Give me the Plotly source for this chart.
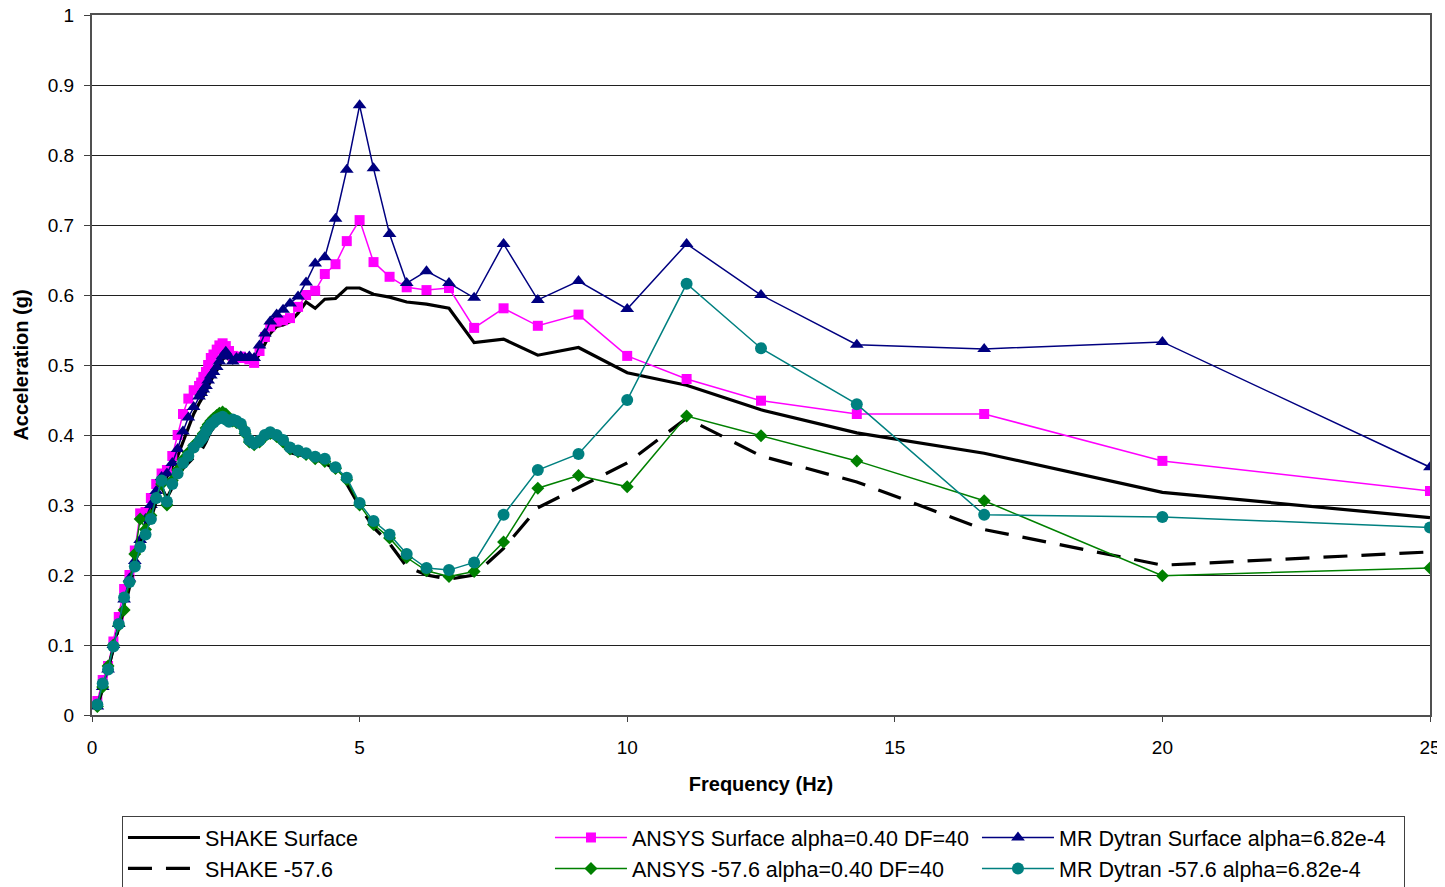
import plotly.graph_objects as go

freq = [0.1, 0.2, 0.3, 0.4, 0.5, 0.6, 0.7, 0.8, 0.9, 1.0,
        1.1, 1.2, 1.3, 1.4, 1.5, 1.6, 1.7, 1.8, 1.9, 2.0,
        2.04, 2.08, 2.13, 2.17, 2.22, 2.27, 2.33, 2.38, 2.44, 2.5,
        2.56, 2.63, 2.70, 2.78, 2.86, 2.94, 3.03, 3.13, 3.23, 3.33,
        3.45, 3.57, 3.70, 3.85, 4.0, 4.17, 4.35, 4.55, 4.76, 5.0,
        5.26, 5.56, 5.88, 6.25, 6.67, 7.14, 7.69, 8.33, 9.09, 10.0,
        11.11, 12.5, 14.29, 16.67, 20.0, 25.0]

shake_surface = [0.01, 0.04, 0.065, 0.098, 0.128, 0.16, 0.19, 0.215, 0.245, 0.27,
                 0.295, 0.315, 0.33, 0.34, 0.355, 0.37, 0.39, 0.41, 0.43, 0.445,
                 0.45, 0.456, 0.462, 0.47, 0.478, 0.485, 0.492, 0.5, 0.508, 0.512,
                 0.508, 0.503, 0.506, 0.508, 0.506, 0.507, 0.505, 0.515, 0.53, 0.545,
                 0.555, 0.557, 0.562, 0.574, 0.59, 0.581, 0.594, 0.595, 0.61, 0.61,
                 0.601, 0.597, 0.59, 0.587, 0.581, 0.532, 0.537, 0.514, 0.525, 0.489,
                 0.471, 0.436, 0.403, 0.374, 0.318, 0.282]

ansys_surface = [0.02, 0.05, 0.07, 0.105, 0.14, 0.18, 0.2, 0.235, 0.288, 0.29,
                 0.31, 0.33, 0.345, 0.35, 0.37, 0.4, 0.43, 0.452, 0.464, 0.47,
                 0.475, 0.483, 0.49, 0.5, 0.51, 0.515, 0.522, 0.528, 0.531, 0.527,
                 0.52, 0.513, 0.51, 0.512, 0.51, 0.508, 0.503, 0.52, 0.54, 0.555,
                 0.562, 0.564, 0.567, 0.583, 0.6, 0.606, 0.63, 0.644, 0.677, 0.707,
                 0.647, 0.626, 0.611, 0.607, 0.61, 0.553, 0.581, 0.556, 0.572, 0.513,
                 0.48, 0.449, 0.43, 0.43, 0.363, 0.32]

mr_surface = [0.012, 0.04, 0.065, 0.1, 0.13, 0.165, 0.195, 0.22, 0.25, 0.28,
              0.3, 0.32, 0.34, 0.345, 0.36, 0.38, 0.405, 0.425, 0.44, 0.455,
              0.46, 0.465, 0.47, 0.478, 0.485, 0.49, 0.497, 0.505, 0.513, 0.519,
              0.512, 0.505, 0.51, 0.512, 0.51, 0.512, 0.51, 0.528, 0.545, 0.562,
              0.572, 0.579, 0.588, 0.598, 0.618, 0.645, 0.654, 0.709, 0.779, 0.871,
              0.781, 0.687, 0.617, 0.634, 0.617, 0.596, 0.673, 0.593, 0.62, 0.58,
              0.673, 0.6, 0.529, 0.523, 0.533, 0.354]

shake_576 = [0.01, 0.04, 0.065, 0.095, 0.125, 0.15, 0.185, 0.215, 0.245, 0.262,
             0.28, 0.305, 0.325, 0.31, 0.325, 0.34, 0.352, 0.36, 0.368, 0.372,
             0.377, 0.382, 0.39, 0.397, 0.405, 0.41, 0.415, 0.418, 0.42, 0.418,
             0.415, 0.418, 0.415, 0.41, 0.4, 0.39, 0.385, 0.388, 0.395, 0.398,
             0.395, 0.385, 0.375, 0.372, 0.37, 0.365, 0.36, 0.35, 0.33, 0.298,
             0.268, 0.245, 0.212, 0.2, 0.194, 0.2, 0.238, 0.296, 0.325, 0.36,
             0.424, 0.37, 0.333, 0.265, 0.214, 0.233]

ansys_576 = [0.012, 0.04, 0.07, 0.1, 0.128, 0.15, 0.19, 0.23, 0.28, 0.265,
             0.285, 0.31, 0.33, 0.3, 0.335, 0.35, 0.365, 0.375, 0.385, 0.392,
             0.397, 0.402, 0.41, 0.415, 0.42, 0.424, 0.428, 0.431, 0.433, 0.43,
             0.422, 0.42, 0.418, 0.414, 0.402, 0.39, 0.386, 0.39, 0.398, 0.402,
             0.398, 0.39, 0.38, 0.376, 0.372, 0.366, 0.362, 0.352, 0.336, 0.3,
             0.272, 0.253, 0.225, 0.206, 0.198, 0.205, 0.247, 0.324, 0.342, 0.326,
             0.427, 0.399, 0.363, 0.306, 0.199, 0.21]

mr_576 = [0.015, 0.045, 0.065, 0.098, 0.13, 0.168, 0.19, 0.212, 0.24, 0.258,
          0.28, 0.31, 0.335, 0.305, 0.33, 0.345, 0.36, 0.37, 0.382, 0.39,
          0.394, 0.398, 0.405, 0.41, 0.415, 0.418, 0.422, 0.424, 0.426, 0.422,
          0.419, 0.422, 0.42, 0.416, 0.405, 0.393, 0.388, 0.392, 0.4, 0.404,
          0.4, 0.393, 0.382, 0.378, 0.374, 0.369, 0.366, 0.354, 0.339, 0.303,
          0.277, 0.258, 0.23, 0.21, 0.207, 0.218, 0.286, 0.35, 0.373, 0.45,
          0.616, 0.524, 0.444, 0.286, 0.283, 0.268]

names = ["SHAKE Surface", "ANSYS Surface alpha=0.40 DF=40", "MR Dytran Surface alpha=6.82e-4",
         "SHAKE -57.6", "ANSYS -57.6 alpha=0.40 DF=40", "MR Dytran -57.6 alpha=6.82e-4"]

x_ticks = [0, 5, 10, 15, 20, 25]
y_ticks = [0, 0.1, 0.2, 0.3, 0.4, 0.5, 0.6, 0.7, 0.8, 0.9, 1]

FONT = "Liberation Sans, Arial, sans-serif"

fig = go.Figure()
fig.add_trace(go.Scatter(x=freq, y=shake_surface, name=names[0], mode="lines",
                         line=dict(color="black", width=3.2)))
fig.add_trace(go.Scatter(x=freq, y=ansys_surface, name=names[1], mode="lines+markers",
                         line=dict(color="#FF00FF", width=1.5),
                         marker=dict(symbol="square", size=10, color="#FF00FF")))
fig.add_trace(go.Scatter(x=freq, y=mr_surface, name=names[2], mode="lines+markers",
                         line=dict(color="#000080", width=1.5),
                         marker=dict(symbol="triangle-up", size=12, color="#000080")))
fig.add_trace(go.Scatter(x=freq, y=shake_576, name=names[3], mode="lines",
                         line=dict(color="black", width=3.2, dash="24px,14px")))
fig.add_trace(go.Scatter(x=freq, y=ansys_576, name=names[4], mode="lines+markers",
                         line=dict(color="#008000", width=1.5),
                         marker=dict(symbol="diamond", size=10, color="#008000")))
fig.add_trace(go.Scatter(x=freq, y=mr_576, name=names[5], mode="lines+markers",
                         line=dict(color="#008080", width=1.5),
                         marker=dict(symbol="circle", size=12, color="#008080")))

# page has an 8px body margin, so the figure is sized/offset to compensate
fig.update_layout(
    width=1437, height=879,
    margin=dict(l=84, r=15, t=7, b=172, autoexpand=False),
    paper_bgcolor="white", plot_bgcolor="white",
    font=dict(family=FONT, size=19, color="black"),
    showlegend=True,
    legend=dict(orientation="h", x=0.0224, xanchor="left", y=-0.1443, yanchor="top",
                entrywidth=340, entrywidthmode="pixels", itemwidth=72,
                bordercolor="#404040", borderwidth=1, bgcolor="white",
                font=dict(family=FONT, size=21.5), tracegroupgap=0,
                traceorder="normal"),
)
fig.update_xaxes(range=[0, 25], tickvals=x_ticks, ticktext=[str(v) for v in x_ticks],
                 showgrid=False, zeroline=False, showline=True, linecolor="#505050",
                 linewidth=2, mirror=True, ticks="outside", ticklen=5, tickcolor="#404040",
                 ticklabelstandoff=9, automargin=False, ticklabeloverflow="allow",
                 tickfont=dict(size=19),
                 title=dict(text="<b>Frequency (Hz)</b>", font=dict(size=20), standoff=20))
fig.update_yaxes(range=[0, 1], tickvals=y_ticks, ticktext=[f"{v:g}" for v in y_ticks],
                 showgrid=True, gridcolor="#202020", gridwidth=1, zeroline=False,
                 showline=True, linecolor="#505050", linewidth=2, mirror=True,
                 ticks="outside", ticklen=6, tickcolor="#404040",
                 ticklabelstandoff=6, automargin=False, ticklabeloverflow="allow",
                 tickfont=dict(size=19),
                 title=dict(text="<b>Acceleration (g)</b>", font=dict(size=20), standoff=14))

fig.write_html("out.html")
